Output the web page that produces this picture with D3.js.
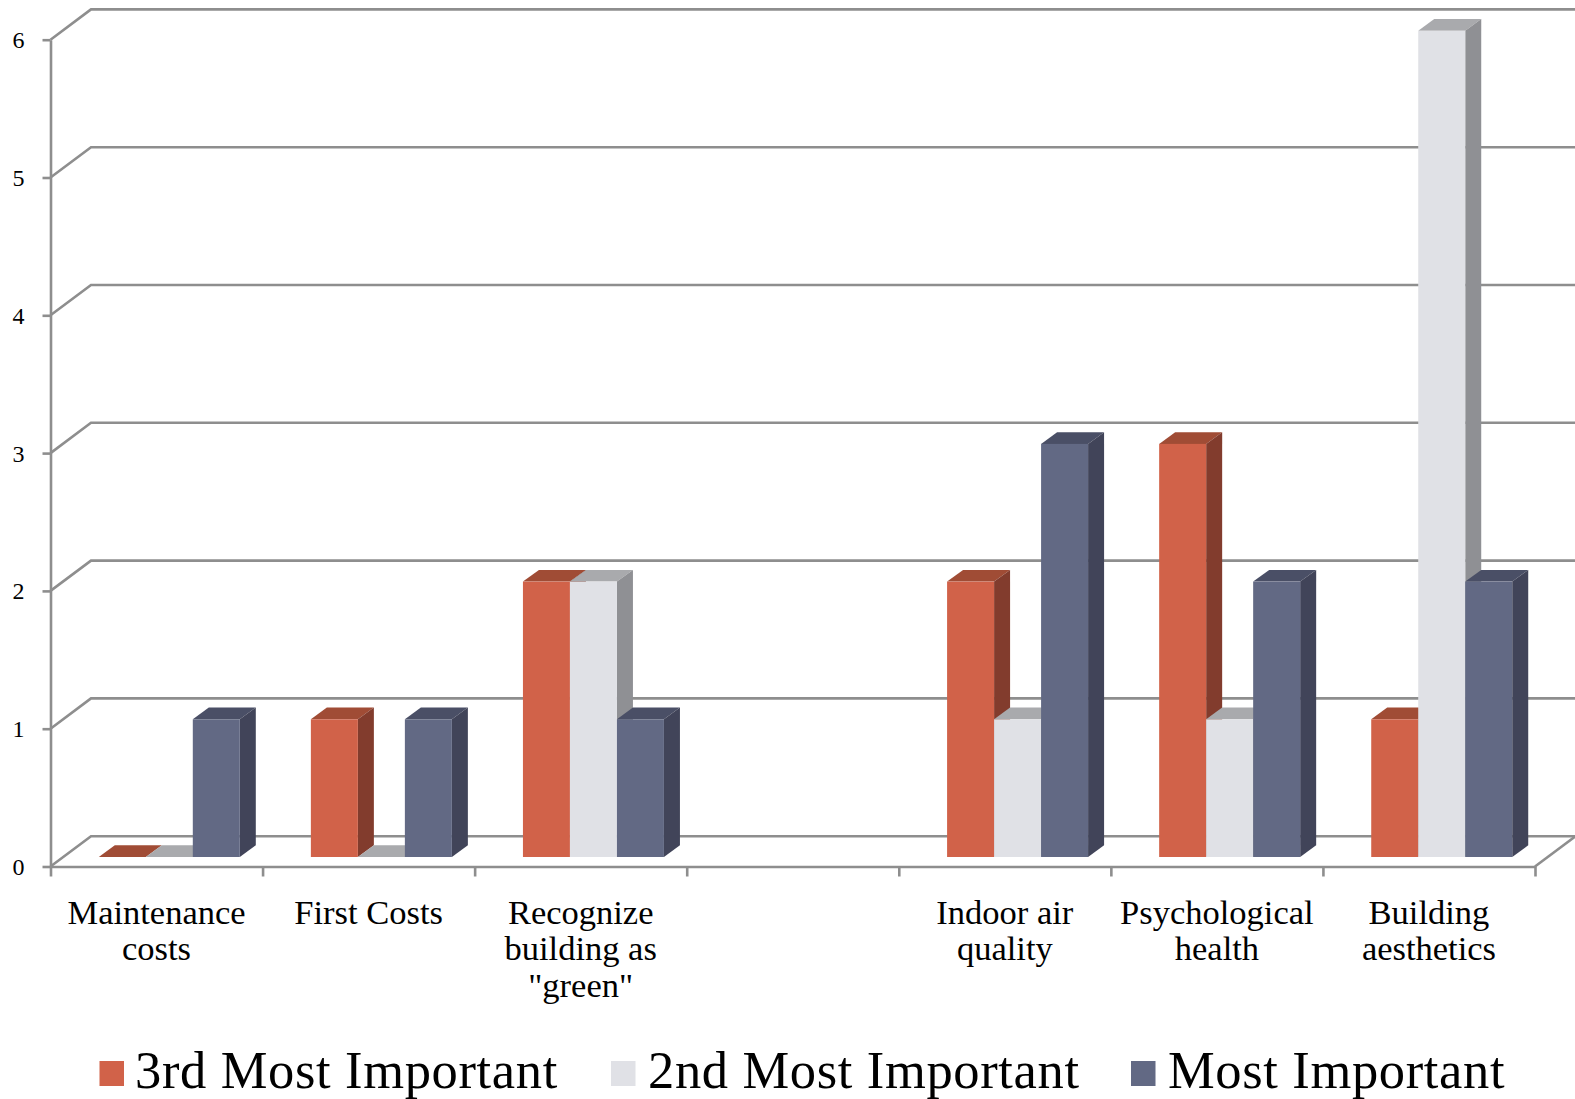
<!DOCTYPE html>
<html><head><meta charset="utf-8">
<script src="https://d3js.org/d3.v7.min.js"></script>
<style>html,body{margin:0;padding:0;background:#fff;overflow:hidden}svg{display:block}
text{font-family:"Liberation Serif",serif;fill:#000}</style></head>
<body><svg id="c" width="1575" height="1099"></svg>
<script>
const categories = ["Maintenance\ncosts","First Costs","Recognize\nbuilding as\n\"green\""," ","Indoor air\nquality","Psychological\nhealth","Building\naesthetics"];
const seriesNames = ["3rd Most Important","2nd Most Important","Most Important"];
const third  = [0,1,2,null,2,3,1];
const second = [0,0,2,null,1,1,6];
const most   = [1,1,1,null,3,2,2];
const yTicks = [0,1,2,3,4,5,6];
const seriesValues = [third,second,most];
const frontColors = ["#D16249","#E0E1E6","#626984"];
const topColors   = ["#A04C35","#A9AAAD","#4A4F66"];
const sideColors  = ["#823C2D","#8F9094","#414459"];
const legendSquareX = [99.5,611,1131], legendTextX = [135,648,1168];

const svg = d3.select("#c");
const grey = "#8E8E8E";
const L=50.5,R=1535,Y0=866.5,unit=137.8;
const wallDx=40.5,wallDy=30.3,barDx=16,barDy=11.7;
const x = d3.scaleBand().domain(categories).range([L,R]);
const xEdge = d3.scaleLinear().domain([0,categories.length]).range([L,R]);
const y = d3.scaleLinear().domain([0,6]).range([Y0,Y0-6*unit]);
const yBar = d3.scaleLinear().domain([0,6]).range([857,857-6*137.7]);
const inner = d3.scaleBand().domain(d3.range(3)).range([48.3,189.3]);

// walls and gridlines
const grid = svg.append("g").attr("fill","none").attr("stroke",grey).attr("stroke-width",2.6);
grid.selectAll("path").data(yTicks).join("path")
  .attr("d",v=>{const p=d3.path();p.moveTo(L,y(v));p.lineTo(L+wallDx,y(v)-wallDy);p.lineTo(1575,y(v)-wallDy);return p.toString();});
const fl=d3.path();fl.moveTo(R,Y0);fl.lineTo(R+wallDx,Y0-wallDy);
grid.append("path").attr("d",fl.toString());

// axes
const yAxis = svg.append("g").attr("transform",`translate(${L},0)`)
  .call(d3.axisLeft(y).tickValues(yTicks).tickSize(8).tickSizeOuter(0).tickFormat(d3.format("d")));
const xAxis = svg.append("g").attr("transform",`translate(0,${Y0})`)
  .call(d3.axisBottom(xEdge).tickValues(d3.range(categories.length+1)).tickSize(10).tickSizeOuter(0).tickFormat(""));
[yAxis,xAxis].forEach(a=>{a.selectAll("path,line").attr("stroke",grey).attr("stroke-width",2.6);});
yAxis.selectAll("text").attr("x",-32).attr("dy",null).attr("y",8).attr("text-anchor","middle")
  .style("font-size","24px").style("font-family",'"Liberation Serif",serif').attr("fill","#000");

const labelAxis = svg.append("g").attr("transform",`translate(0,${Y0})`)
  .call(d3.axisBottom(x).tickSize(0).tickFormat(""));
labelAxis.select(".domain").remove();
labelAxis.selectAll(".tick").each(function(d){
  const t=d3.select(this).select("text").attr("dy",null).attr("y",0).attr("text-anchor","middle")
   .style("font-size","34.5px").style("font-family",'"Liberation Serif",serif').attr("fill","#000");
  d.split("\n").forEach((line,i)=>t.append("tspan").attr("x",0).attr("y",57.5+i*36.3).text(line));
});

// bars
const bars = svg.append("g");
categories.forEach((c,ci)=>{
  seriesValues.forEach((vals,si)=>{
    const v=vals[ci]; if(v===null) return;
    const x0=x(c)+inner(si), x1=x0+inner.bandwidth(), t=yBar(v), b=yBar(0);
    const g=bars.append("g");
    const poly=(pts,f)=>g.append("polygon").attr("points",pts.map(p=>p.join(",")).join(" ")).attr("fill",f);
    poly([[x0,t],[x0+barDx,t-barDy],[x1+barDx,t-barDy],[x1,t]],topColors[si]);
    if(v>0){
      poly([[x1,t],[x1+barDx,t-barDy],[x1+barDx,b-barDy],[x1,b]],sideColors[si]);
      g.append("rect").attr("x",x0).attr("y",t).attr("width",x1-x0).attr("height",b-t).attr("fill",frontColors[si]);
    }
  });
});

// legend
const lg=svg.append("g");
seriesNames.forEach((n,i)=>{
  lg.append("rect").attr("x",legendSquareX[i]).attr("y",1061).attr("width",24.5).attr("height",25).attr("fill",frontColors[i]);
  lg.append("text").attr("x",legendTextX[i]).attr("y",1087.5).style("font-size","52.5px").style("letter-spacing","0.65px").text(n);
});
</script></body></html>
